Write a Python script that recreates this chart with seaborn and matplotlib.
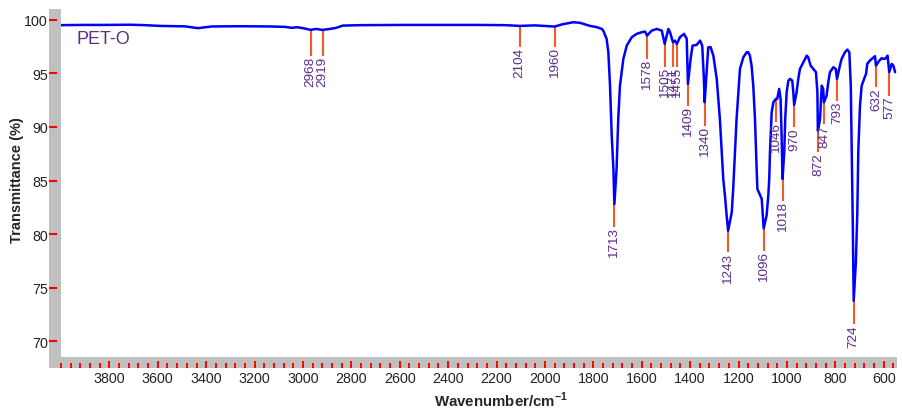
import numpy as np
import pandas as pd
import matplotlib
matplotlib.use("Agg")
import matplotlib.pyplot as plt
import seaborn as sns
from matplotlib.patches import Rectangle
from matplotlib.ticker import FixedLocator, MultipleLocator

# ---- spectrum ----
wavenumber = [4000, 3921, 3831, 3715, 3653, 3591, 3488, 3455, 3434, 3409, 3376, 3260,
              3136, 3074, 3045, 3025, 3000, 2968, 2946, 2919, 2888, 2863, 2835, 2764,
              2599, 2434, 2268, 2165, 2104, 2041, 1960, 1930, 1884, 1855, 1814, 1785,
              1765, 1759, 1745, 1738, 1731, 1724, 1717, 1713, 1704, 1697, 1690, 1676,
              1662, 1641, 1621, 1600, 1586, 1578, 1559, 1538, 1517, 1505, 1490, 1483,
              1471, 1463, 1455, 1442, 1425, 1414, 1412, 1409, 1398, 1390, 1373, 1359,
              1350, 1343, 1340, 1331, 1325, 1315, 1304, 1290, 1277, 1263, 1256, 1249,
              1243, 1228, 1222, 1208, 1194, 1180, 1166, 1160, 1153, 1146, 1139, 1132,
              1125, 1122, 1111, 1104, 1096, 1084, 1077, 1073, 1070, 1063, 1056, 1046,
              1040, 1032, 1026, 1022, 1018, 1011, 1007, 1001, 994, 987, 978, 974,
              970, 960, 953, 946, 932, 918, 912, 902, 891, 880, 874, 872,
              863, 856, 850, 847, 836, 829, 822, 808, 798, 793, 781, 774,
              760, 750, 742, 736, 732, 728, 724, 715, 709, 705, 698, 691,
              681, 673, 668, 657, 646, 636, 632, 618, 608, 599, 591, 584,
              577, 567, 560, 553]
transmittance = [99.48, 99.50, 99.50, 99.52, 99.48, 99.41, 99.37, 99.27, 99.20, 99.27, 99.36, 99.38,
                 99.36, 99.32, 99.23, 99.29, 99.20, 99.04, 99.13, 99.04, 99.13, 99.23, 99.44, 99.48,
                 99.50, 99.50, 99.50, 99.48, 99.41, 99.46, 99.35, 99.55, 99.75, 99.70, 99.41, 99.29,
                 99.13, 98.97, 98.20, 96.96, 93.84, 89.18, 86.07, 82.80, 86.07, 90.74, 93.84, 96.33,
                 97.57, 98.36, 98.67, 98.82, 98.88, 98.50, 98.97, 99.13, 98.97, 97.73, 99.13, 98.82,
                 97.89, 98.04, 97.73, 98.36, 98.67, 98.20, 96.33, 94.00, 96.33, 97.57, 97.64, 98.04,
                 97.57, 94.47, 92.29, 95.40, 97.42, 97.42, 96.64, 94.47, 90.74, 85.14, 83.58, 81.72,
                 80.32, 82.03, 84.20, 90.74, 95.40, 96.49, 96.96, 96.96, 96.64, 95.71, 93.84, 90.74,
                 86.07, 84.20, 83.65, 83.27, 80.54, 81.72, 83.58, 85.14, 87.65, 91.36, 92.29, 92.60,
                 92.60, 93.54, 92.60, 89.18, 85.14, 87.63, 90.74, 93.23, 94.31, 94.47, 94.31, 93.35,
                 92.04, 93.23, 94.47, 95.40, 96.03, 96.64, 96.49, 95.71, 95.40, 95.10, 93.23, 89.65,
                 90.74, 93.84, 93.54, 92.29, 92.91, 94.16, 95.10, 95.56, 95.40, 94.47, 95.71, 96.33,
                 96.96, 97.20, 96.96, 93.84, 87.63, 81.41, 73.79, 77.37, 82.03, 87.63, 91.98, 93.84,
                 94.47, 94.93, 95.87, 96.18, 96.40, 96.59, 95.71, 96.18, 96.40, 96.33, 96.40, 96.64,
                 95.10, 95.87, 95.71, 95.10]

# ---- peak annotations ----
peak_wn = [2968, 2919, 2104, 1960, 1713, 1578, 1505, 1471, 1455, 1409, 1340,
           1243, 1096, 1046, 1018, 970, 872, 847, 793, 724, 632, 577]
peak_T = [99.04, 99.05, 99.40, 99.35, 82.80, 98.50, 97.73, 97.89, 97.73, 94.00, 92.29,
          80.32, 80.54, 92.60, 85.14, 92.04, 89.65, 92.29, 94.47, 73.79, 95.71, 95.10]
label_T = [96.64, 96.64, 97.43, 97.43, 80.63, 96.33, 95.56, 95.56, 95.56, 91.98, 90.11,
           78.30, 78.45, 90.43, 83.12, 89.96, 87.63, 90.27, 92.44, 71.61, 93.69, 92.91]

x_major = [3800, 3600, 3400, 3200, 3000, 2800, 2600, 2400, 2200, 2000, 1800, 1600,
           1400, 1200, 1000, 800, 600]
y_ticks = [70, 75, 80, 85, 90, 95, 100]
sample_name = "PET-O"

df = pd.DataFrame({"wn": wavenumber, "T": transmittance})

sns.set_theme(style="white")
plt.rcParams["font.family"] = ["Liberation Sans", "DejaVu Sans"]
plt.rcParams["mathtext.fontset"] = "custom"
plt.rcParams["mathtext.rm"] = "Liberation Sans"
plt.rcParams["mathtext.bf"] = "Liberation Sans:bold"

W, H = 903, 410
fig = plt.figure(figsize=(W / 100, H / 100), dpi=100)
ax = fig.add_axes([61 / W, 1 - 358 / H, (897 - 61) / W, (358 - 12) / H])

grey = "#c0c0c0"
fig.add_artist(Rectangle((49 / W, 1 - 369 / H), 12 / W, 359 / H, transform=fig.transFigure,
                         facecolor=grey, edgecolor="none", zorder=-1))
fig.add_artist(Rectangle((49 / W, 1 - 369 / H), 848 / W, 11 / H, transform=fig.transFigure,
                         facecolor=grey, edgecolor="none", zorder=-1))

sns.lineplot(data=df, x="wn", y="T", ax=ax, color="#0000ff", linewidth=1.8,
             estimator=None, sort=True, zorder=3)

peak_col = "#f15a29"
label_col = "#5b2d8e"
ax.vlines(peak_wn, label_T, peak_T, colors=peak_col, linewidth=1.5, zorder=2)
for w, yl in zip(peak_wn, label_T):
    ax.text(w, yl, str(w), rotation=90, ha="center", va="top", color=label_col,
            fontsize=9.7, zorder=4)

ax.text(3934, 98.2, sample_name, color=label_col, fontsize=13, ha="left", va="center")

ax.set_xlim(4000, 545)
ax.set_ylim(68.55, 100.8)
ax.xaxis.set_major_locator(FixedLocator(x_major))
ax.xaxis.set_minor_locator(FixedLocator(list(range(4000, 550, -40))))
ax.yaxis.set_major_locator(FixedLocator(y_ticks))

for s in ["top", "right"]:
    ax.spines[s].set_visible(False)
ax.spines["left"].set_position(("outward", 12 * 0.72))
ax.spines["bottom"].set_position(("outward", 11 * 0.72))
ax.spines["left"].set_visible(False)
ax.spines["bottom"].set_visible(False)
ax.set_axisbelow(False)

ax.tick_params(axis="y", which="major", direction="in", length=5.8, width=1.5,
               color="red", pad=0.8, labelsize=10.3, labelcolor="#222222", left=True)
ax.tick_params(axis="x", which="major", direction="in", length=5.4, width=1.4,
               color="red", pad=2.0, labelsize=10.3, labelcolor="#222222", bottom=True)
ax.tick_params(axis="x", which="minor", direction="in", length=3.6, width=1.4,
               color="red", bottom=True)

ax.set_xlabel(r"Wavenumber/cm$^{\mathbf{-1}}$", fontsize=10.8, fontweight="bold")
ax.xaxis.label.set_verticalalignment("center")
ax.xaxis.set_label_coords((501 - 61) / 836, (358 - 400) / 346)
ax.set_ylabel("Transmittance (%)", fontsize=10.5, fontweight="bold")
ax.yaxis.set_label_coords((24 - 61) / 836, 0.514)

fig.savefig("out.png", dpi=100)
